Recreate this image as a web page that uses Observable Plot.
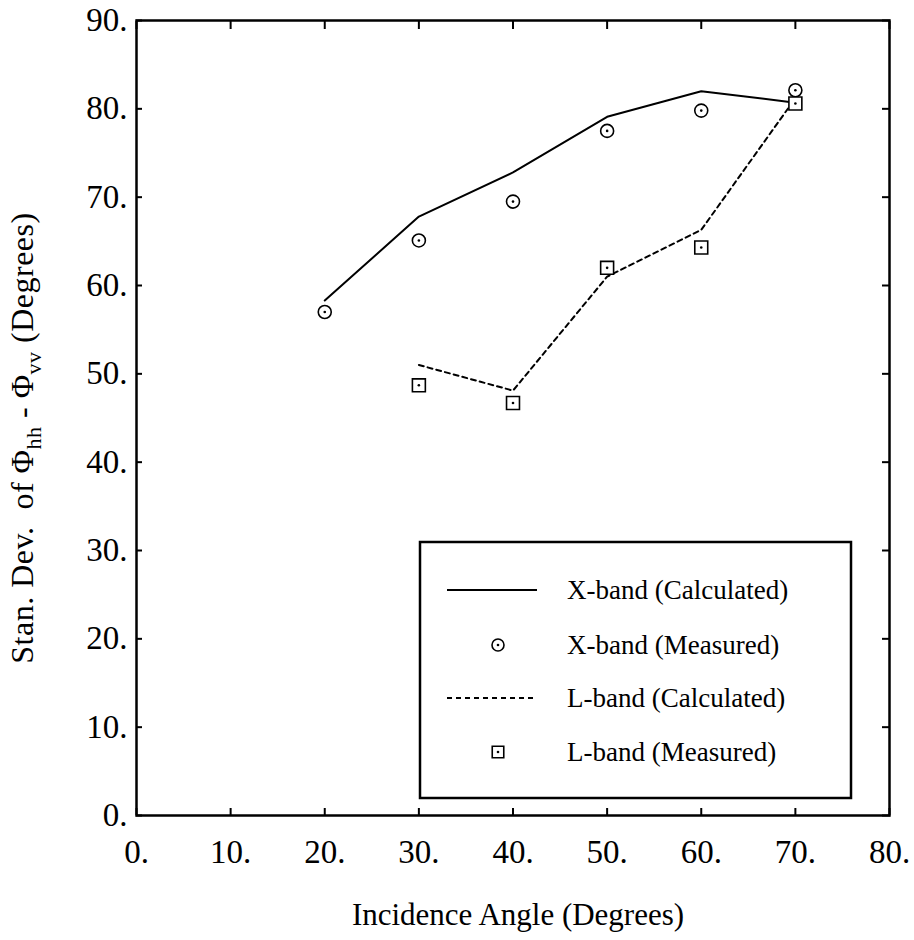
<!DOCTYPE html>
<html><head><meta charset="utf-8">
<script src="https://cdn.jsdelivr.net/npm/d3@7"></script>
<script src="https://cdn.jsdelivr.net/npm/@observablehq/plot@0.6"></script>
<style>
  html, body { margin: 0; padding: 0; background: #fff; }
  #chart svg { display: block; }
</style>
</head><body><div id="chart"></div>
<script>
// ---- data ----
const xAngles = [20, 30, 40, 50, 60, 70];
const xBandCalculated = [58.3, 67.8, 72.8, 79.1, 82.0, 80.7];
const xBandMeasured   = [57.0, 65.1, 69.5, 77.5, 79.8, 82.1];
const lAngles = [30, 40, 50, 60, 70];
const lBandCalculated = [51.0, 48.1, 61.0, 66.3, 81.2];
const lBandMeasured   = [48.7, 46.7, 62.0, 64.3, 80.6];
const xTicks = [0, 10, 20, 30, 40, 50, 60, 70, 80];
const yTicks = [0, 10, 20, 30, 40, 50, 60, 70, 80, 90];
const legendLabels = ["X-band (Calculated)", "X-band (Measured)", "L-band (Calculated)", "L-band (Measured)"];
const xAxisLabel = "Incidence Angle (Degrees)";

// ---- tables ----
const xCalcRows = xAngles.map((a, i) => ({angle: a, value: xBandCalculated[i]}));
const xMeasRows = xAngles.map((a, i) => ({angle: a, value: xBandMeasured[i]}));
const lCalcRows = lAngles.map((a, i) => ({angle: a, value: lBandCalculated[i]}));
const lMeasRows = lAngles.map((a, i) => ({angle: a, value: lBandMeasured[i]}));

const FONT = "'Liberation Serif', 'Times New Roman', serif";
const fmt = d => `${d}.`;
const none = () => "";

const chart = Plot.plot({
  width: 914,
  height: 940,
  marginLeft: 136,
  marginRight: 25,
  marginTop: 20,
  marginBottom: 125,
  style: {fontFamily: FONT, fontSize: "33px", color: "black", background: "white", overflow: "visible"},
  x: {domain: [0, 80], ticks: xTicks},
  y: {domain: [0, 90], ticks: yTicks},
  marks: [
    Plot.axisX(xTicks, {anchor: "bottom", tickSize: -7, tickPadding: 31, tickFormat: fmt, strokeWidth: 2, label: null, fontSize: 33}),
    Plot.axisX(xTicks, {anchor: "top", tickSize: -8, tickFormat: none, strokeWidth: 2, label: null}),
    Plot.axisY(yTicks, {anchor: "left", tickSize: -6, tickPadding: 15, tickFormat: fmt, strokeWidth: 2, label: null, fontSize: 33}),
    Plot.axisY(yTicks, {anchor: "right", tickSize: -8, tickFormat: none, strokeWidth: 2, label: null}),
    Plot.frame({stroke: "black", strokeWidth: 2.5}),
    Plot.line(xCalcRows, {x: "angle", y: "value", stroke: "black", strokeWidth: 2}),
    Plot.line(lCalcRows, {x: "angle", y: "value", stroke: "black", strokeWidth: 2, strokeDasharray: "5,4"}),
    Plot.dot(xMeasRows, {x: "angle", y: "value", symbol: "circle", r: 6.5, stroke: "black", strokeWidth: 1.6, fill: "white"}),
    Plot.dot(xMeasRows, {x: "angle", y: "value", r: 1.3, fill: "black"}),
    Plot.dot(lMeasRows, {x: "angle", y: "value", symbol: "square", r: 7.3, stroke: "black", strokeWidth: 1.6, fill: "white"}),
    Plot.dot(lMeasRows, {x: "angle", y: "value", r: 1.3, fill: "black"})
  ]
});
document.getElementById("chart").appendChild(chart);

// ---- axis titles ----
const svg = d3.select(chart);
svg.append("text")
  .attr("x", 518).attr("y", 925)
  .attr("text-anchor", "middle")
  .attr("font-family", FONT).attr("font-size", 31)
  .attr("fill", "black")
  .text(xAxisLabel);

const yl = svg.append("text")
  .attr("transform", "translate(33,438) rotate(-90)")
  .attr("text-anchor", "middle")
  .attr("font-family", FONT).attr("font-size", 32)
  .attr("letter-spacing", 0.5)
  .attr("fill", "black");
yl.append("tspan").text("Stan. Dev.  of \u03A6");
yl.append("tspan").attr("font-size", 22).attr("dy", 8).text("hh");
yl.append("tspan").attr("dy", -8).text(" - \u03A6");
yl.append("tspan").attr("font-size", 22).attr("dy", 8).text("vv");
yl.append("tspan").attr("dy", -8).text(" (Degrees)");

// ---- legend (inside the plot area) ----
const L = {x0: 420, y0: 542, x1: 851, y1: 798, sample0: 447, sample1: 537, marker: 498, text: 567, rows: [590, 645, 698, 752]};
const lg = svg.append("g").attr("text-anchor", "start");
lg.append("rect")
  .attr("x", L.x0).attr("y", L.y0).attr("width", L.x1 - L.x0).attr("height", L.y1 - L.y0)
  .attr("fill", "white").attr("stroke", "black").attr("stroke-width", 2.5);
const kinds = ["solid", "circle", "dashed", "square"];
legendLabels.forEach((label, i) => {
  const cy = L.rows[i];
  const k = kinds[i];
  if (k === "solid" || k === "dashed") {
    lg.append("line").attr("x1", L.sample0).attr("x2", L.sample1).attr("y1", cy).attr("y2", cy)
      .attr("stroke", "black").attr("stroke-width", 2)
      .attr("stroke-dasharray", k === "dashed" ? "5,4" : null);
  } else {
    const r = k === "circle" ? 6 : 6.5;
    const sym = d3.symbol(k === "circle" ? d3.symbolCircle : d3.symbolSquare, Math.PI * r * r);
    lg.append("path").attr("transform", `translate(${L.marker},${cy})`).attr("d", sym())
      .attr("fill", "white").attr("stroke", "black").attr("stroke-width", 1.6);
    lg.append("circle").attr("cx", L.marker).attr("cy", cy).attr("r", 1.3).attr("fill", "black");
  }
  lg.append("text").attr("x", L.text).attr("y", cy + 9)
    .attr("text-anchor", "start")
    .attr("font-family", FONT).attr("font-size", 27).attr("fill", "black")
    .text(label);
});
</script>
</body></html>
